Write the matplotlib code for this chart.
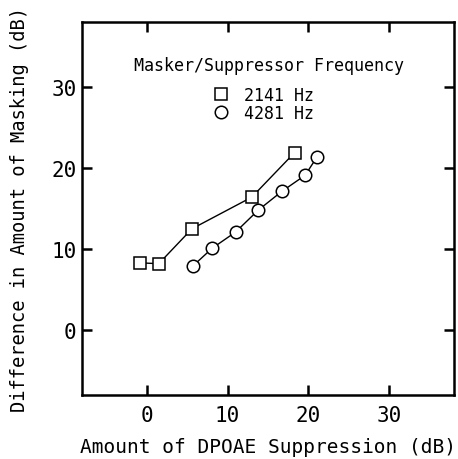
import matplotlib.pyplot as plt
from matplotlib.lines import Line2D

# DPOAE suppression (x) vs difference in masking (y)
sup_2141 = [-0.8, 1.5, 5.6, 13.0, 18.3]
mask_2141 = [8.3, 8.2, 12.5, 16.4, 21.9]

sup_4281 = [5.7, 8.1, 11.0, 13.8, 16.7, 19.6, 21.1]
mask_4281 = [7.9, 10.1, 12.1, 14.8, 17.1, 19.1, 21.4]

ticks = [0, 10, 20, 30]
series_labels = ["2141 Hz", "4281 Hz"]
legend_title = "Masker/Suppressor Frequency"

# wide, evenly spaced lettering like the plotter font of the original
plt.rcParams["font.family"] = ["DejaVu Sans Mono"]

fig = plt.figure(figsize=(4.58, 4.6), dpi=100)
ax = fig.add_axes([0.179, 0.139, 0.812, 0.811])

mk = dict(color="black", linewidth=1.0, markersize=9, markerfacecolor="white",
          markeredgecolor="black", markeredgewidth=1.1)
ax.plot(sup_2141, mask_2141, marker="s", **mk)
ax.plot(sup_4281, mask_4281, marker="o", **mk)

ax.set_xlim(-8, 38)
ax.set_ylim(-8, 38)
ax.set_xticks(ticks)
ax.set_yticks(ticks)
ax.tick_params(direction="in", length=7.5, width=1.8, top=True, right=True,
               labelsize=15)
ax.tick_params(axis="x", pad=7)
ax.tick_params(axis="y", pad=4)
for sp in ax.spines.values():
    sp.set_linewidth(1.8)

ax.set_xlabel("Amount of DPOAE Suppression (dB)", fontsize=14, labelpad=9)
ax.set_ylabel("Difference in Amount of Masking (dB)", fontsize=13.5, labelpad=16)

handles = [
    Line2D([], [], linestyle="none", marker="s", markersize=9, markerfacecolor="white",
           markeredgecolor="black", markeredgewidth=1.1),
    Line2D([], [], linestyle="none", marker="o", markersize=9, markerfacecolor="white",
           markeredgecolor="black", markeredgewidth=1.1),
]
ax.text(0.502, 0.885, legend_title, transform=ax.transAxes, fontsize=12,
        ha="center", va="center")
ax.legend(handles, series_labels, loc="upper center", bbox_to_anchor=(0.486, 0.85),
          frameon=False, fontsize=12, handletextpad=0.78,
          labelspacing=0.0, borderpad=0.0, handlelength=1.2)

fig.savefig("out.png", dpi=100)
